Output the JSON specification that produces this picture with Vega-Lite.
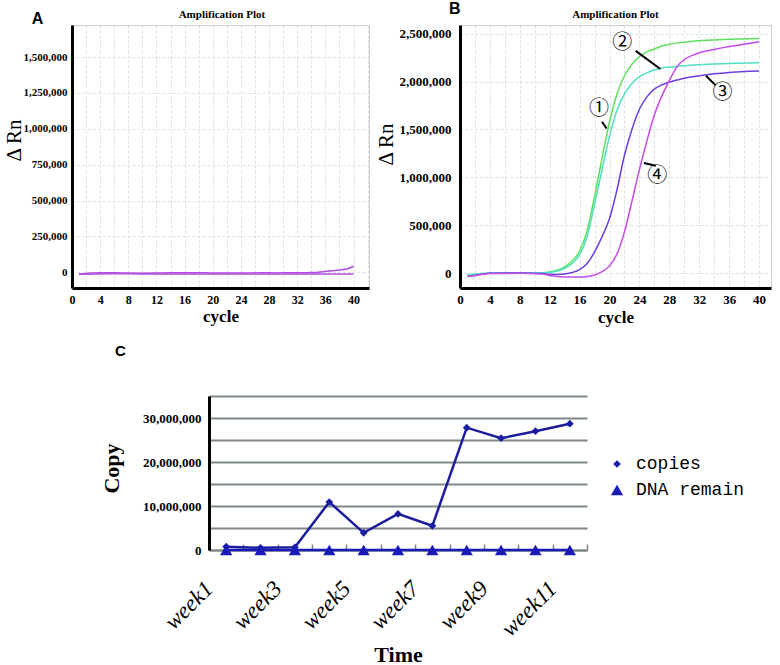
{
  "$schema": "https://vega.github.io/schema/vega-lite/v6.json",
  "background": "white",
  "padding": {"left": 2, "top": 0, "right": 0, "bottom": 0},
  "config": {"view": {"stroke": "#c5cfcf"}, "font": "Liberation Serif", "axis": {"labelOverlap": false}},
  "spacing": 18,
  "resolve": {"scale": {"color": "independent", "stroke": "independent", "shape": "independent", "size": "independent"}, "legend": {"color": "independent", "stroke": "independent", "shape": "independent", "size": "independent"}},
  "datasets": {
    "ampA": [
      {"series": "a1", "cycle": 1, "dRn": -12000}, {"series": "a1", "cycle": 2, "dRn": -9000}, {"series": "a1", "cycle": 3, "dRn": -6000},
      {"series": "a1", "cycle": 4, "dRn": -4000}, {"series": "a1", "cycle": 6, "dRn": -3000}, {"series": "a1", "cycle": 8, "dRn": -6000},
      {"series": "a1", "cycle": 10, "dRn": -7000}, {"series": "a1", "cycle": 12, "dRn": -6000}, {"series": "a1", "cycle": 14, "dRn": -3000},
      {"series": "a1", "cycle": 16, "dRn": -4000}, {"series": "a1", "cycle": 18, "dRn": -3000}, {"series": "a1", "cycle": 20, "dRn": -6000},
      {"series": "a1", "cycle": 24, "dRn": -6000}, {"series": "a1", "cycle": 27, "dRn": -4000}, {"series": "a1", "cycle": 29, "dRn": -5000},
      {"series": "a1", "cycle": 31, "dRn": -4000}, {"series": "a1", "cycle": 34, "dRn": -2000}, {"series": "a1", "cycle": 35, "dRn": 0},
      {"series": "a1", "cycle": 36, "dRn": 6000}, {"series": "a1", "cycle": 37, "dRn": 11000}, {"series": "a1", "cycle": 38, "dRn": 16000},
      {"series": "a1", "cycle": 39, "dRn": 22000}, {"series": "a1", "cycle": 40, "dRn": 42000},
      {"series": "a2", "cycle": 1, "dRn": -15000}, {"series": "a2", "cycle": 3, "dRn": -12000}, {"series": "a2", "cycle": 6, "dRn": -11000},
      {"series": "a2", "cycle": 10, "dRn": -12000}, {"series": "a2", "cycle": 20, "dRn": -12000}, {"series": "a2", "cycle": 30, "dRn": -12000},
      {"series": "a2", "cycle": 35, "dRn": -12000}, {"series": "a2", "cycle": 40, "dRn": -13000}
    ],
    "ampB": [
      {"series": "1", "cycle": 1, "dRn": -20000}, {"series": "1", "cycle": 2, "dRn": -12000}, {"series": "1", "cycle": 3, "dRn": -5000},
      {"series": "1", "cycle": 4, "dRn": 0}, {"series": "1", "cycle": 8, "dRn": 0}, {"series": "1", "cycle": 11, "dRn": 3000},
      {"series": "1", "cycle": 12, "dRn": 12000}, {"series": "1", "cycle": 13, "dRn": 30000}, {"series": "1", "cycle": 14, "dRn": 65000},
      {"series": "1", "cycle": 15, "dRn": 125000}, {"series": "1", "cycle": 16, "dRn": 230000}, {"series": "1", "cycle": 17, "dRn": 440000},
      {"series": "1", "cycle": 18, "dRn": 800000}, {"series": "1", "cycle": 19, "dRn": 1200000}, {"series": "1", "cycle": 20, "dRn": 1580000},
      {"series": "1", "cycle": 21, "dRn": 1870000}, {"series": "1", "cycle": 22, "dRn": 2060000}, {"series": "1", "cycle": 23, "dRn": 2180000},
      {"series": "1", "cycle": 24, "dRn": 2260000}, {"series": "1", "cycle": 25, "dRn": 2310000}, {"series": "1", "cycle": 26, "dRn": 2340000},
      {"series": "1", "cycle": 27, "dRn": 2370000}, {"series": "1", "cycle": 28, "dRn": 2390000}, {"series": "1", "cycle": 30, "dRn": 2410000},
      {"series": "1", "cycle": 33, "dRn": 2430000}, {"series": "1", "cycle": 36, "dRn": 2440000}, {"series": "1", "cycle": 40, "dRn": 2450000},
      {"series": "2", "cycle": 1, "dRn": -20000}, {"series": "2", "cycle": 2, "dRn": -12000}, {"series": "2", "cycle": 3, "dRn": -5000},
      {"series": "2", "cycle": 4, "dRn": 0}, {"series": "2", "cycle": 8, "dRn": 0}, {"series": "2", "cycle": 11, "dRn": 2000},
      {"series": "2", "cycle": 12, "dRn": 8000}, {"series": "2", "cycle": 13, "dRn": 22000}, {"series": "2", "cycle": 14, "dRn": 50000},
      {"series": "2", "cycle": 15, "dRn": 100000}, {"series": "2", "cycle": 16, "dRn": 190000}, {"series": "2", "cycle": 17, "dRn": 380000},
      {"series": "2", "cycle": 18, "dRn": 720000}, {"series": "2", "cycle": 19, "dRn": 1080000}, {"series": "2", "cycle": 20, "dRn": 1430000},
      {"series": "2", "cycle": 21, "dRn": 1700000}, {"series": "2", "cycle": 22, "dRn": 1870000}, {"series": "2", "cycle": 23, "dRn": 1980000},
      {"series": "2", "cycle": 24, "dRn": 2050000}, {"series": "2", "cycle": 25, "dRn": 2090000}, {"series": "2", "cycle": 26, "dRn": 2120000},
      {"series": "2", "cycle": 27, "dRn": 2140000}, {"series": "2", "cycle": 28, "dRn": 2150000}, {"series": "2", "cycle": 30, "dRn": 2165000},
      {"series": "2", "cycle": 32, "dRn": 2175000}, {"series": "2", "cycle": 35, "dRn": 2185000}, {"series": "2", "cycle": 40, "dRn": 2195000},
      {"series": "3", "cycle": 1, "dRn": -35000}, {"series": "3", "cycle": 2, "dRn": -25000}, {"series": "3", "cycle": 3, "dRn": -12000},
      {"series": "3", "cycle": 4, "dRn": -3000}, {"series": "3", "cycle": 8, "dRn": 0}, {"series": "3", "cycle": 11, "dRn": -5000},
      {"series": "3", "cycle": 12, "dRn": -12000}, {"series": "3", "cycle": 13, "dRn": -15000}, {"series": "3", "cycle": 14, "dRn": -10000},
      {"series": "3", "cycle": 15, "dRn": 5000}, {"series": "3", "cycle": 16, "dRn": 35000}, {"series": "3", "cycle": 17, "dRn": 100000},
      {"series": "3", "cycle": 18, "dRn": 220000}, {"series": "3", "cycle": 19, "dRn": 380000}, {"series": "3", "cycle": 20, "dRn": 570000},
      {"series": "3", "cycle": 21, "dRn": 870000}, {"series": "3", "cycle": 22, "dRn": 1230000}, {"series": "3", "cycle": 23, "dRn": 1500000},
      {"series": "3", "cycle": 24, "dRn": 1710000}, {"series": "3", "cycle": 25, "dRn": 1840000}, {"series": "3", "cycle": 26, "dRn": 1920000},
      {"series": "3", "cycle": 27, "dRn": 1965000}, {"series": "3", "cycle": 28, "dRn": 1995000}, {"series": "3", "cycle": 29, "dRn": 2015000},
      {"series": "3", "cycle": 30, "dRn": 2035000}, {"series": "3", "cycle": 32, "dRn": 2060000}, {"series": "3", "cycle": 34, "dRn": 2080000},
      {"series": "3", "cycle": 36, "dRn": 2095000}, {"series": "3", "cycle": 38, "dRn": 2105000}, {"series": "3", "cycle": 40, "dRn": 2110000},
      {"series": "4", "cycle": 1, "dRn": -35000}, {"series": "4", "cycle": 2, "dRn": -25000}, {"series": "4", "cycle": 3, "dRn": -12000},
      {"series": "4", "cycle": 4, "dRn": -5000}, {"series": "4", "cycle": 8, "dRn": -3000}, {"series": "4", "cycle": 11, "dRn": -10000},
      {"series": "4", "cycle": 12, "dRn": -25000}, {"series": "4", "cycle": 13, "dRn": -35000}, {"series": "4", "cycle": 14, "dRn": -40000},
      {"series": "4", "cycle": 15, "dRn": -42000}, {"series": "4", "cycle": 16, "dRn": -42000}, {"series": "4", "cycle": 17, "dRn": -36000},
      {"series": "4", "cycle": 18, "dRn": -20000}, {"series": "4", "cycle": 19, "dRn": 15000}, {"series": "4", "cycle": 20, "dRn": 75000},
      {"series": "4", "cycle": 21, "dRn": 200000}, {"series": "4", "cycle": 22, "dRn": 430000}, {"series": "4", "cycle": 23, "dRn": 750000},
      {"series": "4", "cycle": 24, "dRn": 1080000}, {"series": "4", "cycle": 25, "dRn": 1380000}, {"series": "4", "cycle": 26, "dRn": 1650000},
      {"series": "4", "cycle": 27, "dRn": 1850000}, {"series": "4", "cycle": 28, "dRn": 2010000}, {"series": "4", "cycle": 29, "dRn": 2150000},
      {"series": "4", "cycle": 30, "dRn": 2230000}, {"series": "4", "cycle": 31, "dRn": 2270000}, {"series": "4", "cycle": 32, "dRn": 2300000},
      {"series": "4", "cycle": 34, "dRn": 2335000}, {"series": "4", "cycle": 36, "dRn": 2365000}, {"series": "4", "cycle": 38, "dRn": 2390000},
      {"series": "4", "cycle": 40, "dRn": 2415000}
    ],
    "labelsB": [
      {"label": "①", "cycle": 18.6, "dRn": 1710000},
      {"label": "②", "cycle": 21.7, "dRn": 2400000},
      {"label": "③", "cycle": 35.1, "dRn": 1880000},
      {"label": "④", "cycle": 26.4, "dRn": 1010000}
    ],
    "leadersB": [
      {"label": "①", "cycle": 19.0, "dRn": 1580000, "cycleEnd": 19.6, "dRnEnd": 1510000},
      {"label": "②", "cycle": 23.5, "dRn": 2320000, "cycleEnd": 26.8, "dRnEnd": 2130000},
      {"label": "③", "cycle": 32.9, "dRn": 2060000, "cycleEnd": 34.2, "dRnEnd": 1960000},
      {"label": "④", "cycle": 24.6, "dRn": 1150000, "cycleEnd": 26.2, "dRnEnd": 1120000}
    ],
    "weekly": [
      {"week": "week1", "series": "copies", "value": 750000}, {"week": "week2", "series": "copies", "value": 500000},
      {"week": "week3", "series": "copies", "value": 600000}, {"week": "week4", "series": "copies", "value": 10900000},
      {"week": "week5", "series": "copies", "value": 3900000}, {"week": "week6", "series": "copies", "value": 8200000},
      {"week": "week7", "series": "copies", "value": 5500000}, {"week": "week8", "series": "copies", "value": 27800000},
      {"week": "week9", "series": "copies", "value": 25400000}, {"week": "week10", "series": "copies", "value": 27000000},
      {"week": "week11", "series": "copies", "value": 28700000},
      {"week": "week1", "series": "DNA remain", "value": 0}, {"week": "week2", "series": "DNA remain", "value": 0},
      {"week": "week3", "series": "DNA remain", "value": 0}, {"week": "week4", "series": "DNA remain", "value": 0},
      {"week": "week5", "series": "DNA remain", "value": 0}, {"week": "week6", "series": "DNA remain", "value": 0},
      {"week": "week7", "series": "DNA remain", "value": 0}, {"week": "week8", "series": "DNA remain", "value": 0},
      {"week": "week9", "series": "DNA remain", "value": 0}, {"week": "week10", "series": "DNA remain", "value": 0},
      {"week": "week11", "series": "DNA remain", "value": 0}
    ]
  },
  "vconcat": [
    {
      "bounds": "flush",
      "spacing": 91,
      "hconcat": [
        {
          "width": 297,
          "height": 263,
          "layer": [
            {
              "data": {"name": "ampA"},
              "mark": {"type": "line", "strokeWidth": 1.5, "color": "#b24ee0", "interpolate": "monotone"},
              "encoding": {
                "x": {"field": "cycle", "type": "quantitative", "scale": {"domain": [0, 42.2], "nice": false, "zero": false},
                  "axis": {"values": [0, 2, 4, 6, 8, 10, 12, 14, 16, 18, 20, 22, 24, 26, 28, 30, 32, 34, 36, 38, 40, 42], "tickCount": 30,
                    "labelExpr": "datum.value % 4 === 0 ? format(datum.value, 'd') : ''", "ticks": false, "labelOverlap": false,
                    "domainColor": "black", "domainWidth": 3, "labelFont": "Liberation Serif", "labelFontWeight": "bold", "labelFontSize": 12,
                    "labelColor": "black", "labelPadding": 6, "title": "cycle", "titleFont": "Liberation Serif", "titleFontSize": 17,
                    "titleFontWeight": "bold", "titleColor": "black", "titlePadding": 3, "gridColor": "#dbe2e2", "gridDash": [3, 2], "labelFlush": false}},
                "y": {"field": "dRn", "type": "quantitative", "scale": {"domain": [-110000, 1724000], "nice": false, "zero": false},
                  "axis": {"values": [0, 250000, 500000, 750000, 1000000, 1250000, 1500000], "tickCount": 10, "labelExpr": "format(datum.value, ',')", "ticks": false, "labelOverlap": false,
                    "domainColor": "black", "domainWidth": 3, "labelFont": "Liberation Serif", "labelFontWeight": "bold", "labelFontSize": 11,
                    "labelColor": "black", "labelPadding": 5, "title": "Δ Rn", "titleFont": "Liberation Serif", "titleFontSize": 21,
                    "titleFontWeight": "normal", "titleColor": "black", "titleX": -58, "titleY": 115, "titleBaseline": "middle", "titleAlign": "center",
                    "gridColor": "#dbe2e2", "gridDash": [3, 2]}},
                "detail": {"field": "series"}
              }
            },
            {
              "data": {"values": [{}]},
              "mark": {"type": "text", "font": "Liberation Sans", "fontWeight": "bold", "fontSize": 16, "baseline": "middle", "align": "center"},
              "encoding": {"x": {"datum": -4.9}, "y": {"datum": 1766000}, "text": {"value": "A"}}
            },
            {
              "data": {"values": [{}]},
              "mark": {"type": "text", "font": "Liberation Serif", "fontWeight": "bold", "fontSize": 11, "baseline": "middle", "align": "center"},
              "encoding": {"x": {"datum": 21.3}, "y": {"datum": 1794000}, "text": {"value": "Amplification Plot"}}
            }
          ]
        },
        {
          "width": 311,
          "height": 263,
          "layer": [
            {
              "data": {"name": "ampB"},
              "mark": {"type": "line", "strokeWidth": 1.5, "interpolate": "monotone"},
              "encoding": {
                "x": {"field": "cycle", "type": "quantitative", "scale": {"domain": [0, 41.6], "nice": false, "zero": false},
                  "axis": {"values": [0, 2, 4, 6, 8, 10, 12, 14, 16, 18, 20, 22, 24, 26, 28, 30, 32, 34, 36, 38, 40], "tickCount": 30,
                    "labelExpr": "datum.value % 4 === 0 ? format(datum.value, 'd') : ''", "ticks": false, "labelOverlap": false,
                    "domainColor": "black", "domainWidth": 3, "labelFont": "Liberation Serif", "labelFontWeight": "bold", "labelFontSize": 13,
                    "labelColor": "black", "labelPadding": 5, "title": "cycle", "titleFont": "Liberation Serif", "titleFontSize": 17,
                    "titleFontWeight": "bold", "titleColor": "black", "titlePadding": 3, "gridColor": "#dbe2e2", "gridDash": [3, 2], "labelFlush": false}},
                "y": {"field": "dRn", "type": "quantitative", "scale": {"domain": [-156000, 2590000], "nice": false, "zero": false},
                  "axis": {"values": [0, 500000, 1000000, 1500000, 2000000, 2500000], "tickCount": 10, "labelExpr": "format(datum.value, ',')", "ticks": false, "labelOverlap": false,
                    "domainColor": "black", "domainWidth": 3, "labelFont": "Liberation Serif", "labelFontWeight": "bold", "labelFontSize": 13,
                    "labelColor": "black", "labelPadding": 9, "title": "Δ Rn", "titleFont": "Liberation Serif", "titleFontSize": 21,
                    "titleFontWeight": "normal", "titleColor": "black", "titleX": -74, "titleY": 119, "titleBaseline": "middle", "titleAlign": "center",
                    "gridColor": "#dbe2e2", "gridDash": [3, 2]}},
                "stroke": {"field": "series", "type": "nominal", "legend": null,
                  "scale": {"domain": ["1", "2", "3", "4"], "range": ["#5fe05a", "#4fe0c2", "#6b3fe0", "#c44ce8"]}}
              }
            },
            {
              "data": {"name": "leadersB"},
              "mark": {"type": "rule", "color": "black", "strokeWidth": 2},
              "encoding": {
                "x": {"field": "cycle", "type": "quantitative"}, "y": {"field": "dRn", "type": "quantitative"},
                "x2": {"field": "cycleEnd"}, "y2": {"field": "dRnEnd"}
              }
            },
            {
              "data": {"name": "labelsB"},
              "mark": {"type": "text", "font": "Noto Sans CJK SC", "fontSize": 20, "color": "black", "baseline": "middle", "align": "center"},
              "encoding": {
                "x": {"field": "cycle", "type": "quantitative"}, "y": {"field": "dRn", "type": "quantitative"},
                "text": {"field": "label"}
              }
            },
            {
              "data": {"values": [{}]},
              "mark": {"type": "text", "font": "Liberation Sans", "fontWeight": "bold", "fontSize": 16, "baseline": "middle", "align": "center"},
              "encoding": {"x": {"datum": -0.7}, "y": {"datum": 2752000}, "text": {"value": "B"}}
            },
            {
              "data": {"values": [{}]},
              "mark": {"type": "text", "font": "Liberation Serif", "fontWeight": "bold", "fontSize": 11, "baseline": "middle", "align": "center"},
              "encoding": {"x": {"datum": 20.8}, "y": {"datum": 2690000}, "text": {"value": "Amplification Plot"}}
            }
          ]
        }
      ]
    },
    {
      "bounds": "flush",
      "spacing": 20,
      "hconcat": [
        {
          "width": 117,
          "height": 154,
          "view": {"stroke": null},
          "data": {"values": []},
          "mark": "point"
        },
        {
          "width": 378,
          "height": 154,
          "view": {"stroke": null},
          "title": {"text": "C", "anchor": "start", "frame": "group", "dx": -94, "offset": 16, "font": "Liberation Sans", "fontSize": 15, "fontWeight": "bold", "baseline": "bottom"},
          "data": {"name": "weekly"},
          "encoding": {
            "x": {"field": "week", "type": "ordinal", "sort": null, "bandPosition": 0.5,
              "scale": {"type": "band", "paddingInner": 0, "paddingOuter": 0},
              "axis": {"labelExpr": "indexof(['week1','week3','week5','week7','week9','week11'], datum.value) >= 0 ? datum.value : ''",
                "labelAngle": -45, "labelFont": "Liberation Serif", "labelFontStyle": "italic", "labelFontSize": 23, "labelColor": "black",
                "labelPadding": 33, "labelOffset": -25, "labelOverlap": false, "tickBand": "extent", "tickSize": -6, "tickColor": "#7f8787", "tickWidth": 1.5,
                "domainColor": "#7f8787", "domainWidth": 2, "grid": false,
                "title": "Time", "titleFont": "Liberation Serif", "titleFontSize": 22, "titleFontWeight": "bold", "titleColor": "black",
                "titleY": 104, "titleBaseline": "middle"}},
            "y": {"field": "value", "type": "quantitative", "scale": {"domain": [0, 35000000], "nice": false},
              "axis": {"values": [0, 5000000, 10000000, 15000000, 20000000, 25000000, 30000000, 35000000], "tickCount": 10,
                "labelExpr": "datum.value % 10000000 === 0 ? format(datum.value, ',') : ''", "ticks": false, "labelOverlap": false,
                "domainColor": "black", "domainWidth": 3, "labelFont": "Liberation Serif", "labelFontWeight": "bold", "labelFontSize": 13,
                "labelColor": "black", "labelPadding": 8, "gridColor": "#7f8787", "gridWidth": 2,
                "title": "Copy", "titleFont": "Liberation Serif", "titleFontSize": 22, "titleFontWeight": "bold", "titleColor": "black",
                "titleX": -98, "titleY": 72, "titleBaseline": "middle", "titleAlign": "center"}},
            "color": {"field": "series", "type": "nominal",
              "scale": {"domain": ["copies", "DNA remain"], "range": ["#1c1c9e", "#1a1ab8"]},
              "legend": {"orient": "none", "legendX": 536, "legendY": 59, "title": null, "labelFont": "Liberation Mono", "labelFontSize": 18,
                "labelColor": "black", "symbolSize": 160, "labelOffset": 10, "rowPadding": 8, "symbolStrokeWidth": 0}}
          },
          "layer": [
            {"mark": {"type": "line", "strokeWidth": 2.5}},
            {"mark": {"type": "point", "filled": true, "opacity": 1},
              "encoding": {
                "shape": {"field": "series", "type": "nominal", "scale": {"domain": ["copies", "DNA remain"], "range": ["diamond", "triangle-up"]}},
                "size": {"field": "series", "type": "nominal", "scale": {"domain": ["copies", "DNA remain"], "range": [60, 150]}, "legend": null}
              }}
          ]
        }
      ]
    }
  ]
}
